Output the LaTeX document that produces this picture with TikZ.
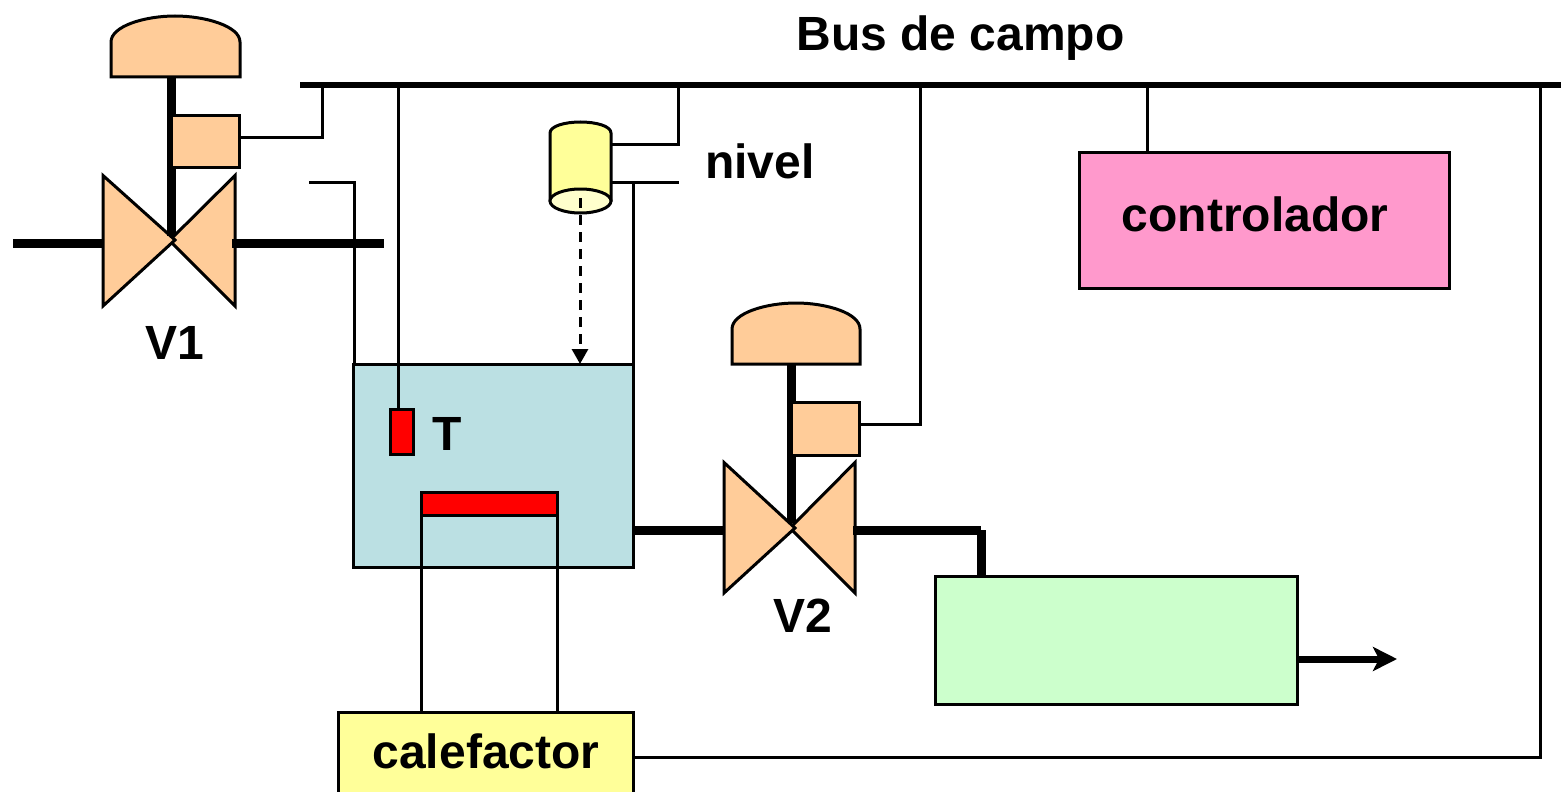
\documentclass[tikz,border=0pt]{standalone}
\usepackage{fontspec}
\setmainfont{Liberation Sans}
\usetikzlibrary{arrows.meta}
\definecolor{valvec}{HTML}{FFCC99}
\definecolor{yellowc}{HTML}{FFFF99}
\definecolor{paleyc}{HTML}{FFFFCC}
\definecolor{tankc}{HTML}{BBE0E3}
\definecolor{greenc}{HTML}{CCFFCC}
\definecolor{pinkc}{HTML}{FF99CC}
\tikzset{
  x=1pt,y=-1pt,
  boxn/.style={draw=black,line width=3pt,inner sep=0pt,outer sep=0pt,rectangle},
  label/.style={font=\fontsize{48}{52}\selectfont\bfseries,inner sep=0pt,text=black},
  wire/.style={draw=black,line width=3pt},
  pipe/.style={draw=black,line width=9pt},
  valveshape/.style={draw=black,line width=3pt,fill=valvec,line join=miter},
  stem/.style={draw=black,line width=9pt},
  bus/.style={draw=black,line width=5.5pt},
}
\begin{document}
\begin{tikzpicture}
\clip (0,0) rectangle (1561,792);
% bus
\coordinate (busL) at (300,85);
\coordinate (busR) at (1561,85);
\coordinate (busV1) at (322.5,85);
\coordinate (busT) at (398,85);
\coordinate (busN) at (678.5,85);
\coordinate (busV2) at (920,85);
\coordinate (busC) at (1147.5,85);
\coordinate (busH) at (1540.5,85);
% tank and its contents
\node[boxn,fill=tankc,minimum width=280pt,minimum height=203.5pt] (tank) at (493,466) {};
\node[boxn,fill=red,minimum width=23pt,minimum height=45.5pt] (tsens) at (402,432) {};
\node[boxn,fill=red,minimum width=136pt,minimum height=23pt] (heater) at (489,503.5) {};
\node[boxn,fill=yellowc,minimum width=295pt,minimum height=100pt,anchor=north west] (cal) at (338,712) {};
\node[boxn,fill=pinkc,minimum width=370pt,minimum height=136pt] (ctrl) at (1264,220) {};
\node[boxn,fill=greenc,minimum width=362.5pt,minimum height=128pt] (green) at (1116.5,640) {};
% connectors
\coordinate (v1a) at (309,182);
\coordinate (v1b) at (354,182);
\coordinate (nivA) at (611,144);
\coordinate (nivB) at (611,182);
\coordinate (nivC) at (679,182);
\coordinate (nivD) at (633,182);
\coordinate (heatL) at (421,515);
\coordinate (heatR) at (557,515);
\coordinate (calL) at (421,712);
\coordinate (calR) at (557,712);
\coordinate (tankL) at (354,364);
\coordinate (tankR) at (633,364);
\coordinate (tsTop) at (398,409);
\coordinate (calE) at (634,757);
\draw[wire] (v1a) -- (v1b) -- (tankL);
\draw[wire] (busT) -- (tsTop);
\draw[wire] (heatL) -- (calL);
\draw[wire] (heatR) -- (calR);
\draw[wire] (nivB) -- (nivC);
\draw[wire] (nivD) -- (tankR);
\draw[wire] (busC) -- (busC |- ctrl.north);
\draw[wire] (calE) -| (busH);
% valve V1
\coordinate (v1stemT) at (171.5,77);
\coordinate (v1stemB) at (171.5,236);
\draw[valveshape] (235,175.5) -- (235,306) -- (170,241) -- (170,240) -- cycle;
\draw[valveshape] (103,175.5) -- (103,306) -- (175,240) -- cycle;
\draw[stem] (v1stemT) -- (v1stemB);
\node[boxn,fill=valvec,minimum width=68pt,minimum height=52pt] (v1box) at (205.5,141) {};
\coordinate (v1port) at (240,137);
\draw[wire] (v1port) -| (busV1);
\draw[valveshape] (111,77) -- (111,42) .. controls (111,26) and (145,16) .. (175,16) .. controls (205,16) and (240,26) .. (240,42) -- (240,77) -- cycle;
\coordinate (p1a) at (13,243.5);
\coordinate (p1b) at (103,243.5);
\coordinate (p1c) at (232,243.5);
\coordinate (p1d) at (384,243.5);
\draw[pipe] (p1a) -- (p1b);
\draw[pipe] (p1c) -- (p1d);
% valve V2
\coordinate (v2stemT) at (791.5,364);
\coordinate (v2stemB) at (791.5,523);
\draw[valveshape] (855,462.5) -- (855,593) -- (790,528) -- cycle;
\draw[valveshape] (724,462.5) -- (724,593) -- (795,528) -- cycle;
\draw[stem] (v2stemT) -- (v2stemB);
\node[boxn,fill=valvec,minimum width=68pt,minimum height=53pt] (v2box) at (825.5,428.5) {};
\coordinate (v2port) at (860,424);
\draw[wire] (v2port) -| (busV2);
\draw[valveshape] (732,364) -- (732,329) .. controls (732,313) and (766,303) .. (796,303) .. controls (826,303) and (860,313) .. (860,329) -- (860,364) -- cycle;
\coordinate (p2a) at (634,530.5);
\coordinate (p2b) at (724,530.5);
\coordinate (p2c) at (853,530.5);
\coordinate (p2d) at (981,530.5);
\coordinate (p2e) at (981,530);
\coordinate (p2f) at (981,576);
\draw[pipe] (p2a) -- (p2b);
\draw[pipe] (p2c) -- (p2d);
\draw[pipe] (p2e) -- (p2f);
% outlet
\coordinate (outA) at (1298,659);
\coordinate (outB) at (1397,659);
\draw[draw=black,line width=7pt,-{Stealth[length=24pt,width=24pt,inset=6pt]}] (outA) -- (outB);
% level sensor
\draw[wire,fill=yellowc] (550,200) -- (550,133) .. controls (550,126) and (565,122) .. (580.5,122) .. controls (596,122) and (611,126) .. (611,133) -- (611,200) -- cycle;
\draw[wire,fill=paleyc] (580.5,201) ellipse [x radius=30.5,y radius=12];
\draw[wire] (nivA) -| (busN);
\coordinate (dashT) at (580,198);
\coordinate (dashB) at (580,364);
\draw[draw=black,line width=3pt,dash pattern=on 10pt off 7pt,-{Triangle[length=15pt,width=16pt]}] (dashT) -- (dashB);
% bus on top
\draw[bus] (busL) -- (busR);
% labels
\node[label] (lbus) at (960.5,38) {Bus de campo};
\node[label] (lniv) at (760,161) {nivel};
\node[label] (lctrl) at (1255,214) {controlador};
\node[label] (lv1) at (174.5,343) {V1};
\node[label] (lv2) at (802.5,616) {V2};
\node[label] (lt) at (447.5,434) {T};
\node[label] (lcal) at (486,751) {calefactor};
\end{tikzpicture}
\end{document}
